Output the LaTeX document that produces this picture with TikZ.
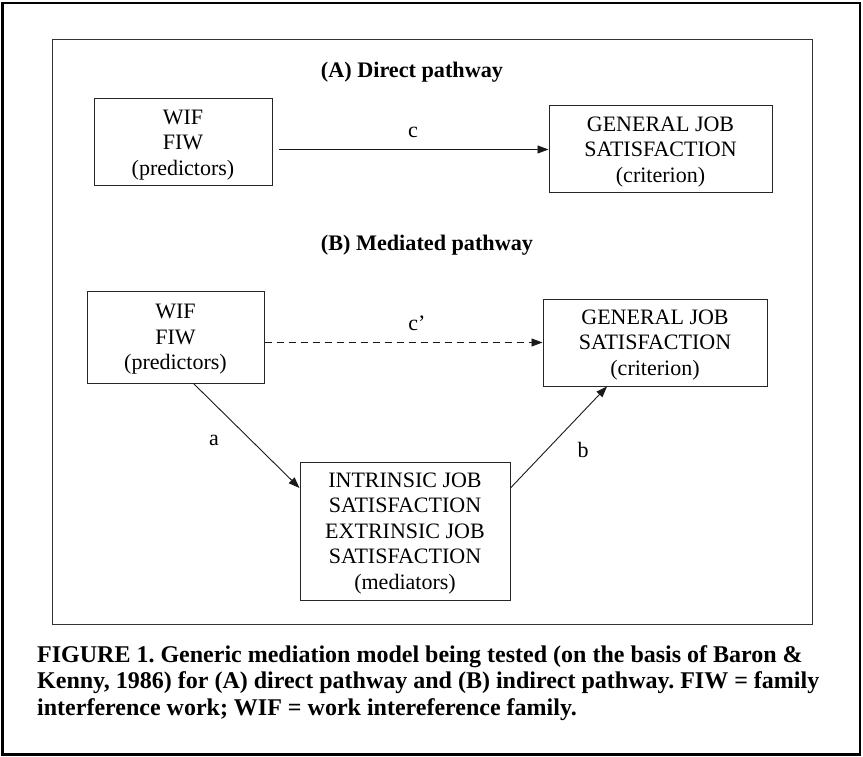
\documentclass[tikz,border=0pt]{standalone}
\usepackage{fontspec}
\setmainfont{Liberation Serif}
\usetikzlibrary{arrows.meta}
\frenchspacing

\tikzset{
  varbox/.style = {draw=black!85, line width=1pt, align=center, inner sep=0pt, text depth=0pt,
                   font=\fontsize{22}{25.5}\selectfont},
  link/.style = {line width=0.9pt, black!90, -{Triangle[length=11pt, width=8pt]}},
  lbl/.style = {anchor=base, inner sep=0pt, font=\fontsize{22}{24}\selectfont},
  heading/.style = {anchor=base, inner sep=0pt, font=\fontsize{22.2}{25}\selectfont\bfseries},
  captxt/.style = {anchor=base west, inner sep=0pt, font=\fontsize{24}{26}\selectfont\bfseries}
}

\begin{document}
\begin{tikzpicture}[x=1pt, y=-1pt]
%frame
    \useasboundingbox (0,0) rectangle (863,757);
    \draw[line width=2.6pt] (2.5,3) rectangle (860,754.5);
    \draw[line width=1pt, black!80] (52,40) rectangle (812,624);
%headings
    \node[heading] (ha) at (412,78) {(A) Direct pathway};
    \node[heading] (hb) at (427,251) {(B) Mediated pathway};
%boxes
    \node[varbox, minimum width=178pt, minimum height=87pt] (A1) at (183,142.5) {WIF\\FIW\\(predictors)};
    \node[varbox, minimum width=223pt, minimum height=87pt] (A2) at (660.5,149.5) {GENERAL JOB\\SATISFACTION\\(criterion)};
    \node[varbox, minimum width=177pt, minimum height=92pt] (B1) at (175.5,337) {WIF\\FIW\\(predictors)};
    \node[varbox, minimum width=224pt, minimum height=87pt] (B2) at (655,342.5) {GENERAL JOB\\SATISFACTION\\(criterion)};
    \node[varbox, minimum width=210pt, minimum height=138pt] (M) at (405,531) {INTRINSIC JOB\\SATISFACTION\\EXTRINSIC JOB\\SATISFACTION\\(mediators)};
%arrows
    \draw[link, shorten <=6pt] (A1.east |- A2.west) -- (A2.west);
    \draw[link, dash pattern=on 7pt off 5pt] (B1.east |- B2.west) -- (B2.west);
    \draw[link] ([xshift=18pt]B1.south) -- ([yshift=43pt]M.west);
    \draw[link] ([yshift=43pt]M.east) -- ([xshift=-48pt]B2.south);
%labels
    \node[lbl] (lc) at (413,138) {c};
    \node[lbl] (lcp) at (417,330) {c'};
    \node[lbl] (la) at (214,445) {a};
    \node[lbl] (lb) at (583,457) {b};
%caption
    \node[captxt] (cap1) at (37,662) {FIGURE 1. Generic mediation model being tested (on the basis of Baron \&};
    \node[captxt] (cap2) at (37,688.5) {Kenny, 1986) for (A) direct pathway and (B) indirect pathway. FIW = family};
    \node[captxt] (cap3) at (37,715) {interference work; WIF = work intereference family.};
\end{tikzpicture}
\end{document}
